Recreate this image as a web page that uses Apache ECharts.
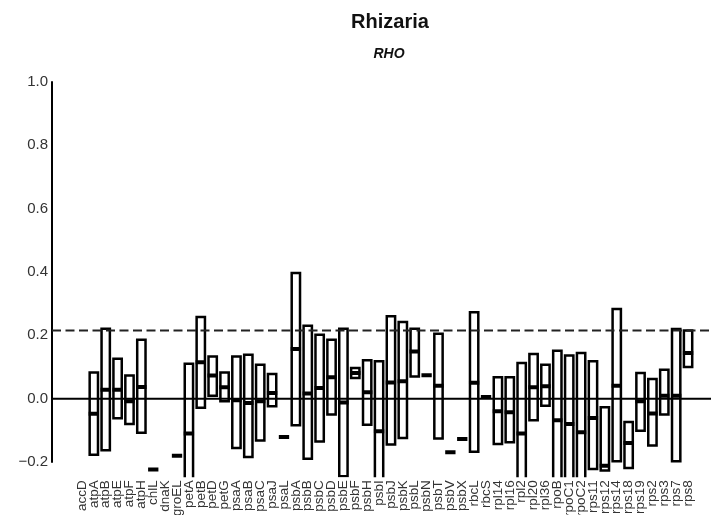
<!DOCTYPE html>
<html>
<head>
<meta charset="utf-8">
<script src="https://cdn.jsdelivr.net/npm/echarts@6/dist/echarts.min.js"></script>
<style>
  html, body { margin: 0; padding: 0; background: #fff; }
  #chart { width: 711px; height: 515px; }
</style>
</head>
<body>
<div id="chart"></div>
<script>
// Gene names along the x axis
const genes = ['accD','atpA','atpB','atpE','atpF','atpH','chlL','dnaK','groEL','petA','petB','petD','petG',
  'psaA','psaB','psaC','psaJ','psaL','psbA','psbB','psbC','psbD','psbE','psbF','psbH','psbI','psbJ','psbK',
  'psbL','psbN','psbT','psbV','psbX','rbcL','rbcS','rpl14','rpl16','rpl2','rpl20','rpl36','rpoB','rpoC1',
  'rpoC2','rps11','rps12','rps14','rps18','rps19','rps2','rps3','rps7','rps8'];

// Per-gene minimum, median and maximum (null = no data)
const lowVals = [null,-0.177,-0.163,-0.062,-0.080,-0.108,-0.224,null,-0.180,-0.260,-0.029,0.009,-0.008,
  -0.156,-0.184,-0.132,-0.024,-0.121,-0.084,-0.190,-0.135,-0.050,-0.245,0.065,-0.082,-0.260,-0.145,-0.124,
  0.070,0.074,-0.126,-0.169,-0.127,-0.168,0.005,-0.143,-0.138,-0.260,-0.068,-0.022,-0.260,-0.260,
  -0.260,-0.222,-0.227,-0.198,-0.219,-0.101,-0.148,-0.050,-0.198,0.100];
const medVals = [null,-0.048,0.028,0.028,-0.008,0.037,-0.224,null,-0.180,-0.110,0.115,0.073,0.036,
  -0.005,-0.014,-0.008,0.018,-0.121,0.157,0.016,0.034,0.068,-0.012,0.081,0.020,-0.103,0.051,0.055,
  0.149,0.074,0.041,-0.169,-0.127,0.050,0.005,-0.040,-0.043,-0.110,0.036,0.039,-0.068,-0.080,
  -0.106,-0.061,-0.212,0.041,-0.140,-0.008,-0.047,0.009,0.009,0.144];
const highVals = [null,0.083,0.221,0.126,0.073,0.186,-0.224,null,-0.180,0.110,0.258,0.133,0.083,
  0.133,0.139,0.107,0.078,-0.121,0.397,0.230,0.202,0.186,0.221,0.097,0.121,0.118,0.260,0.242,
  0.221,0.074,0.205,-0.169,-0.127,0.273,0.005,0.068,0.068,0.113,0.141,0.107,0.151,0.136,
  0.144,0.118,-0.027,0.283,-0.074,0.081,0.062,0.091,0.220,0.215];

// Reference level (dashed) and y-axis ticks
const threshold = 0.215;
const yTicks = [-0.2, 0.0, 0.2, 0.4, 0.6, 0.8, 1.0];

const boxData = [];
genes.forEach((g, i) => {
  if (lowVals[i] !== null) boxData.push([i, lowVals[i], medVals[i], highVals[i]]);
});

const chart = echarts.init(document.getElementById('chart'), null, { renderer: 'canvas' });

// Plot region padding beyond the labelled range (boxes are clipped here)
const pad = (yTicks[yTicks.length - 1] - yTicks[0]) * 0.04;
const topA = 82, bottomA = 53;
const unitPx = (515 - topA - bottomA) / (yTicks[yTicks.length - 1] - yTicks[0]);

function renderBox(params, api) {
  const i = api.value(0);
  const x = api.coord([i, 0])[0];
  const w = api.size([1, 0])[0] * 0.7;
  const yLo = api.coord([i, api.value(1)])[1];
  const yMed = api.coord([i, api.value(2)])[1];
  const yHi = api.coord([i, api.value(3)])[1];
  return {
    type: 'group',
    children: [
      {
        type: 'rect',
        shape: { x: x - w / 2, y: yHi, width: w, height: yLo - yHi },
        style: { fill: 'none', stroke: '#000', lineWidth: 2.5 }
      },
      {
        type: 'line',
        shape: { x1: x - w / 2 - 1, y1: yMed, x2: x + w / 2 + 1, y2: yMed },
        style: { stroke: '#000', lineWidth: 4 }
      }
    ]
  };
}

chart.setOption({
  animation: false,
  backgroundColor: '#fff',
  title: [
    { text: 'Rhizaria', left: 385, top: 7, textAlign: 'center',
      textStyle: { fontFamily: 'Liberation Sans', fontWeight: 'bold', fontSize: 20, color: '#111' } },
    { text: 'RHO', left: 384, top: 42, textAlign: 'center',
      textStyle: { fontFamily: 'Liberation Sans', fontWeight: 'bold', fontStyle: 'italic', fontSize: 14, color: '#111' } }
  ],
  grid: [
    { left: 52, right: 0, top: topA, bottom: bottomA, outerBoundsMode: 'none', containLabel: false },
    { left: 76, right: 17, top: topA - pad * unitPx, bottom: bottomA - pad * unitPx,
      outerBoundsMode: 'none', containLabel: false }
  ],
  xAxis: [
    { gridIndex: 0, type: 'value', min: 0, max: 1, show: false },
    { gridIndex: 1, type: 'category', data: genes, boundaryGap: true,
      axisLine: { show: false }, axisTick: { show: false }, splitLine: { show: false },
      axisLabel: { interval: 0, rotate: 90, margin: 3, fontSize: 13.5, color: '#333',
        fontFamily: 'Liberation Sans' } }
  ],
  yAxis: [
    { gridIndex: 0, type: 'value', min: yTicks[0], max: yTicks[yTicks.length - 1], interval: 0.2,
      axisLine: { show: true, lineStyle: { color: '#000', width: 2 } },
      axisTick: { show: false }, splitLine: { show: false },
      axisLabel: { fontSize: 15, color: '#333', margin: 4, fontFamily: 'Liberation Sans',
        formatter: v => (v < 0 ? '\u2212' : '') + Math.abs(v).toFixed(1) } },
    { gridIndex: 1, type: 'value', min: yTicks[0] - pad, max: yTicks[yTicks.length - 1] + pad, show: false }
  ],
  series: [
    { type: 'line', xAxisIndex: 0, yAxisIndex: 0, data: [[0, 0], [1, 0]], symbol: 'none',
      lineStyle: { color: '#000', width: 2 }, silent: true },
    { type: 'line', xAxisIndex: 0, yAxisIndex: 0, data: [[0, threshold], [1, threshold]], symbol: 'none',
      lineStyle: { color: '#222', width: 2, type: [9, 4.5] }, silent: true },
    { type: 'custom', xAxisIndex: 1, yAxisIndex: 1, data: boxData, renderItem: renderBox, clip: true,
      encode: { x: 0, y: [1, 2, 3] } }
  ]
});
</script>
</body>
</html>
